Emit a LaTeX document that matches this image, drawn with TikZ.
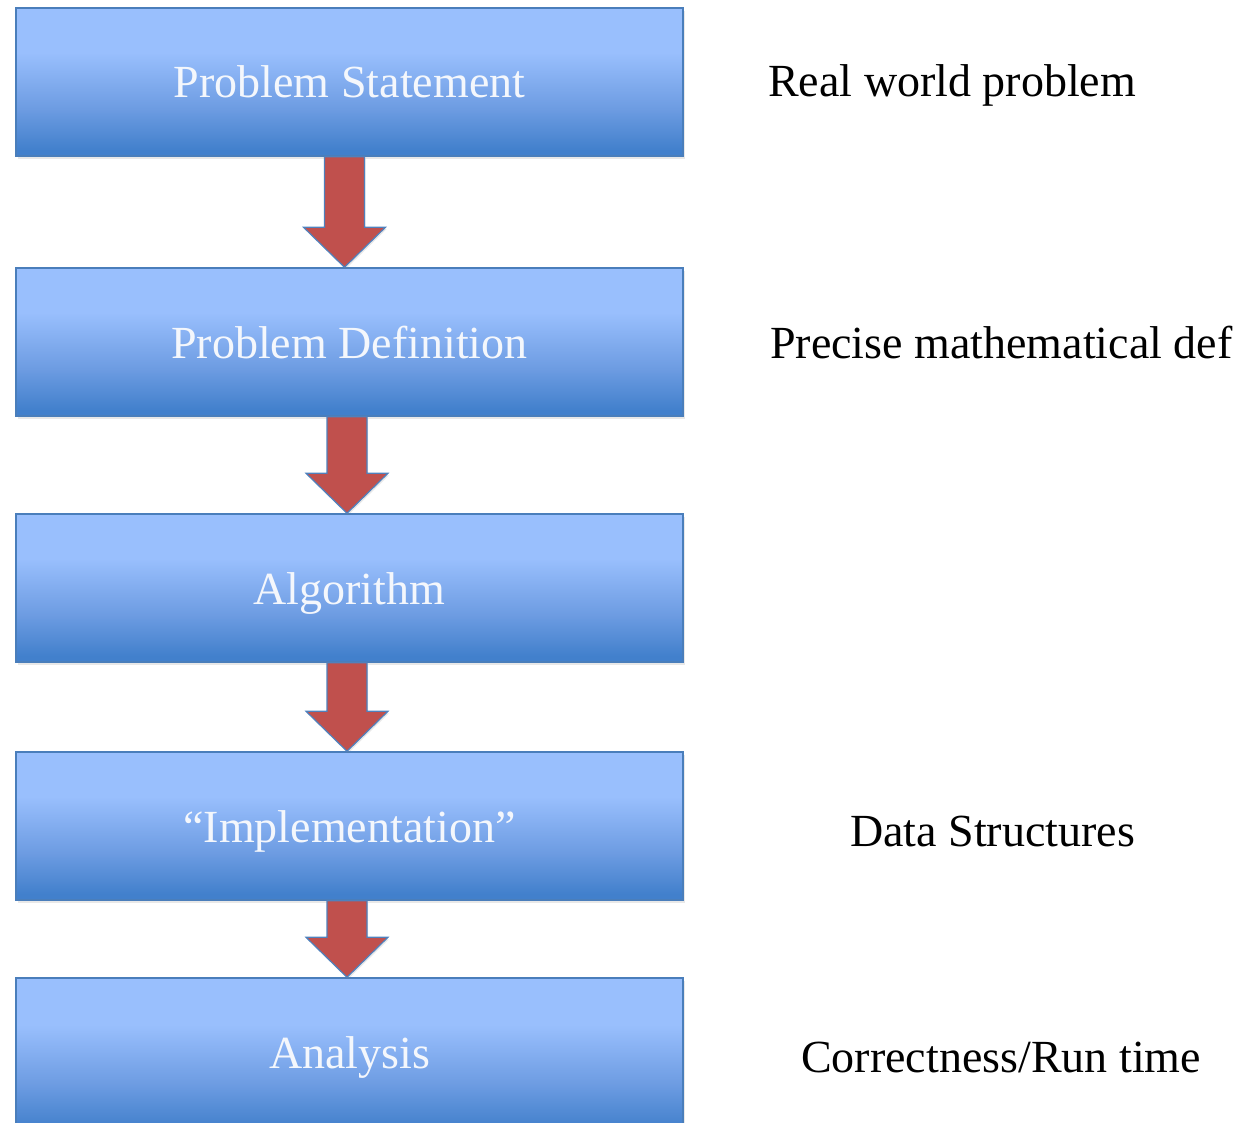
\documentclass[tikz,border=0pt]{standalone}
\usepackage{fontspec}
\setmainfont{Liberation Serif}
\usetikzlibrary{shadows,calc}
\definecolor{boxlight}{HTML}{99BFFD}
\definecolor{boxmid}{HTML}{6D9CE2}
\definecolor{boxdark}{HTML}{4280CC}
\definecolor{boxborder}{HTML}{4A7EBB}
\definecolor{arrowfill}{HTML}{C0504D}
\definecolor{arrowborder}{HTML}{4F81BD}
\definecolor{boxtext}{HTML}{F4F7FC}
\pgfdeclareverticalshading{boxshade}{100bp}{color(0bp)=(boxdark); color(27bp)=(boxdark); color(41bp)=(boxmid); color(60bp)=(boxlight); color(100bp)=(boxlight)}
\begin{document}
\begin{tikzpicture}[x=1pt,y=-1pt,
  stepbox/.style={draw=boxborder, line width=1.5pt, shading=boxshade,
    minimum width=667pt, minimum height=148pt, inner sep=0pt,
    text height=32pt, text depth=0pt,
    font=\fontsize{46}{55}\selectfont, text=boxtext,
    drop shadow={opacity=0.18, shadow xshift=2pt, shadow yshift=-3pt}},
  sidetext/.style={anchor=base west, inner sep=0pt, font=\fontsize{46}{55}\selectfont, text=black},
  bigarrow/.style={fill=arrowfill, draw=arrowborder, line width=1.2pt, line join=miter,
    drop shadow={opacity=0.18, shadow xshift=1pt, shadow yshift=-2pt}}]
\useasboundingbox (0,0) rectangle (1253,1123);
\begin{scope}
\clip (0,0) rectangle (1253,1123);
\node[stepbox] (b1) at (349.5,82) {Problem Statement};
\node[stepbox] (b2) at (349.5,342) {Problem Definition};
\node[stepbox] (b3) at (349.5,588) {Algorithm};
\node[stepbox] (b4) at (349.5,826) {“Implementation”};
\node[stepbox, minimum height=156pt, text depth=8pt] (b5) at (349.5,1056) {Analysis};

\foreach \a/\b/\dx in {b1/b2/-5, b2/b3/-2.5, b3/b4/-2.5, b4/b5/-2.5}{
  \path[bigarrow] let \p1=($(\a.south)+(\dx,0)$), \p2=($(\b.north)+(\dx,0)$) in
    (\x1-20pt,\y1) -- (\x1+20pt,\y1) -- (\x1+20pt,\y2+40pt) -- (\x1+41pt,\y2+40pt)
    -- (\x2,\y2) -- (\x1-41pt,\y2+40pt) -- (\x1-20pt,\y2+40pt) -- cycle;
}
\end{scope}

\node[sidetext] (t1) at (768,97) {Real world problem};
\node[sidetext] (t2) at (770,359) {Precise mathematical def};
\node[sidetext] (t4) at (850,846) {Data Structures};
\node[sidetext] (t5) at (801,1072) {Correctness/Run time};
\end{tikzpicture}
\end{document}
